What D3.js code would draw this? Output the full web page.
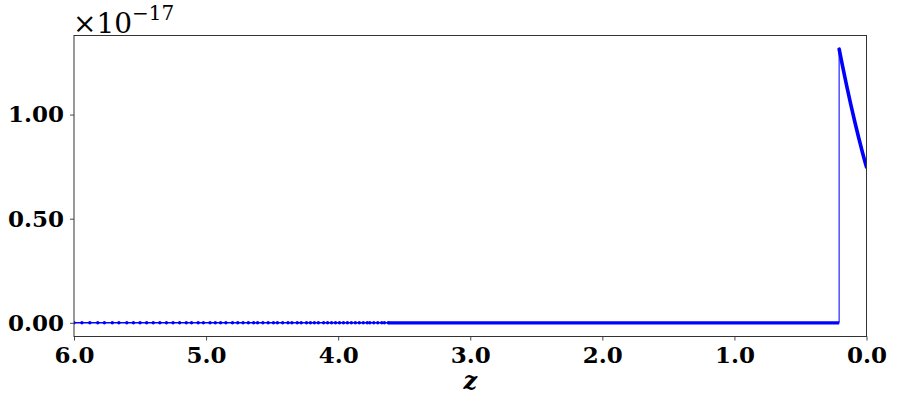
<!DOCTYPE html>
<html>
<head>
<meta charset="utf-8">
<script src="https://cdn.jsdelivr.net/npm/d3@7/dist/d3.min.js"></script>
<style>
  body { margin: 0; background: #fff; }
  svg { display: block; }
</style>
</head>
<body>
<svg width="897" height="414"></svg>
<script>
// values are in units of 1e-17
var xTicks = [6.0, 5.0, 4.0, 3.0, 2.0, 1.0, 0.0];
var yTicks = [0.00, 0.50, 1.00];

// sample points along the flat zero part (visible markers)
var zeroZ = [6.00, 5.94, 5.88, 5.82, 5.77, 5.71, 5.66, 5.60, 5.55, 5.50,
  5.45, 5.40, 5.35, 5.30, 5.25, 5.20, 5.15, 5.11, 5.06, 5.02,
  4.97, 4.93, 4.89, 4.85, 4.80, 4.76, 4.72, 4.68, 4.64, 4.61,
  4.57, 4.53, 4.49, 4.46, 4.42, 4.38, 4.35, 4.31, 4.28, 4.24,
  4.21, 4.18, 4.15, 4.11, 4.08, 4.05, 4.02, 3.99, 3.96, 3.93,
  3.90, 3.87, 3.84, 3.81, 3.78, 3.76, 3.73, 3.70, 3.67, 3.65, 3.62];
// where the markers merge into a solid band, and where the jump happens
var denseZ = [3.62, 0.207];
// the non-zero tail near z = 0
var tailZ = [0.207, 0.18, 0.15, 0.12, 0.09, 0.06, 0.03, 0.0];
var tailV = [1.314, 1.229, 1.138, 1.051, 0.969, 0.891, 0.817, 0.748];

var svg = d3.select("svg"),
    mLeft = 74, mRight = 866.5, mTop = 35.5, mBottom = 336.5;

var x = d3.scaleLinear().domain([6, 0]).range([mLeft, mRight]);
var y = d3.scaleLinear().domain([-0.0657, 1.3797]).range([mBottom, mTop]);

var blue = "#0000ff";

svg.append("clipPath").attr("id", "clip")
  .append("rect")
  .attr("x", mLeft).attr("y", mTop)
  .attr("width", mRight - mLeft).attr("height", mBottom - mTop);

var g = svg.append("g").attr("clip-path", "url(#clip)");

// thin line over the flat part
g.append("path")
  .datum(zeroZ.concat([denseZ[1]]))
  .attr("fill", "none")
  .attr("stroke", blue)
  .attr("stroke-width", 1.5)
  .attr("d", d3.line().x(function(d){ return x(d); }).y(function(){ return y(0); }));

// markers
g.selectAll(".dot")
  .data(zeroZ)
  .enter().append("circle")
    .attr("class", "dot")
    .attr("cx", function(d){ return x(d); })
    .attr("cy", y(0))
    .attr("r", 1.7)
    .style("fill", blue);

// dense (merged markers) band
g.append("path")
  .datum(denseZ)
  .attr("fill", "none")
  .attr("stroke", blue)
  .attr("stroke-width", 3.3)
  .attr("d", d3.line().x(function(d){ return x(d); }).y(function(){ return y(0); }));

// jump
g.append("line")
  .attr("x1", x(tailZ[0])).attr("x2", x(tailZ[0]))
  .attr("y1", y(0)).attr("y2", y(tailV[0]))
  .attr("stroke", blue)
  .attr("stroke-opacity", 0.75)
  .attr("stroke-width", 1.4);

// tail
g.append("path")
  .datum(d3.zip(tailZ, tailV))
  .attr("fill", "none")
  .attr("stroke", blue)
  .attr("stroke-width", 3.6)
  .attr("stroke-linecap", "round")
  .attr("d", d3.line().curve(d3.curveMonotoneX)
      .x(function(d){ return x(d[0]); })
      .y(function(d){ return y(d[1]); }));

// axes
var xAxis = svg.append("g")
  .attr("transform", "translate(0," + mBottom + ")")
  .call(d3.axisBottom(x).tickValues(xTicks).tickSize(4).tickPadding(5)
    .tickFormat(d3.format(".1f")));
var yAxis = svg.append("g")
  .attr("transform", "translate(" + mLeft + ",0)")
  .call(d3.axisLeft(y).tickValues(yTicks).tickSize(4).tickPadding(6)
    .tickFormat(d3.format(".2f")));

[xAxis, yAxis].forEach(function(a){
  a.select(".domain").remove();
  a.selectAll("line").attr("stroke", "#333").attr("stroke-width", 0.9);
  a.selectAll("text")
    .attr("fill", "#000")
    .style("font-family", "'DejaVu Serif', serif")
    .style("font-weight", "bold")
    .style("font-size", "23px");
});
xAxis.selectAll("text").attr("y", 26).attr("dy", 0);

// frame
svg.append("rect")
  .attr("x", mLeft).attr("y", mTop)
  .attr("width", mRight - mLeft).attr("height", mBottom - mTop)
  .attr("fill", "none")
  .attr("stroke", "#333")
  .attr("stroke-width", 1);

// axis label
svg.append("text")
  .attr("x", (mLeft + mRight) / 2)
  .attr("y", 389)
  .attr("text-anchor", "middle")
  .style("font-family", "'DejaVu Serif', serif")
  .style("font-style", "italic")
  .style("font-weight", "bold")
  .style("font-size", "24px")
  .text("z");

// offset text
var off = svg.append("text")
  .attr("x", mLeft - 1)
  .attr("y", 33)
  .style("font-family", "'DejaVu Serif', serif")
  .style("font-size", "28px");
off.append("tspan").text("×10");
off.append("tspan")
  .attr("dy", -13)
  .style("font-size", "20px")
  .text("−17");
</script>
</body>
</html>
